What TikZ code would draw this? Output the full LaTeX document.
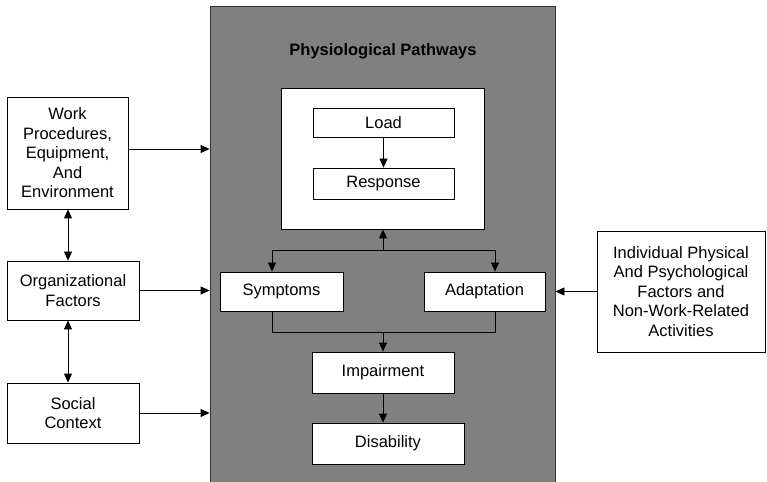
\documentclass[tikz,border=0pt]{standalone}
\usepackage{fontspec}
\setmainfont{Liberation Sans}
\usetikzlibrary{arrows.meta}
\definecolor{panel}{HTML}{808080}
\begin{document}
\begin{tikzpicture}[x=1bp,y=-1bp,
  box/.style={draw=black,fill=white,line width=0.8bp,inner sep=0pt,align=center,
    font=\fontsize{16.5bp}{19.5bp}\selectfont},
  arr/.style={line width=0.8bp,-{Triangle[length=9bp,width=8bp]}},
  darr/.style={line width=0.8bp,{Triangle[length=9bp,width=8bp]}-{Triangle[length=9bp,width=8bp]}},
  ln/.style={line width=0.8bp}]
\useasboundingbox (0,0) rectangle (767,482);
\clip (0,0) rectangle (767,482);
% grey panel
\node[draw=black!80,fill=panel,line width=0.8bp,minimum width=345bp,minimum height=484bp,inner sep=0pt] (pp) at (382.5,248) {};
\node[font=\fontsize{16.5bp}{18bp}\selectfont\bfseries] (title) at (383,51) {Physiological Pathways};
% inner white container
\node[box,minimum width=203bp,minimum height=141bp] (cont) at (382.5,158.5) {};
\node[box,minimum width=141bp,minimum height=29bp] (load) at (383.5,122.5) {Load};
\node[box,minimum width=141bp,minimum height=31bp] (resp) at (383.5,183.5) {Response};
\node[box,minimum width=123bp,minimum height=39bp] (sym) at (281.5,291.5) {\raisebox{3bp}{Symptoms}};
\node[box,minimum width=121bp,minimum height=39bp] (ada) at (484.5,291.5) {\raisebox{3bp}{Adaptation}};
\node[box,minimum width=142bp,minimum height=41bp] (imp) at (383,372.5) {\raisebox{3bp}{Impairment}};
\node[box,minimum width=152bp,minimum height=41bp] (dis) at (388,443.5) {\raisebox{3bp}{Disability}};
% left boxes
\node[box,minimum width=121bp,minimum height=112bp] (work) at (67.5,153) {Work\\Procedures,\\Equipment,\\And\\Environment};
\node[box,minimum width=132bp,minimum height=59bp] (org) at (73,290.5) {Organizational\\Factors};
\node[box,minimum width=132bp,minimum height=60bp] (soc) at (73,413) {Social\\Context};
% right box
\node[box,minimum width=168bp,minimum height=121bp] (ind) at (681,291.5) {Individual Physical\\And Psychological\\Factors and\\Non-Work-Related\\Activities};
% connectors
\draw[arr] (load.south) -- (resp.north);
\coordinate (jt) at (383,250);
\coordinate (jl) at (272,250);
\coordinate (jr) at (495,250);
\draw[ln] (jl) -- (jr);
\draw[arr] (jt) -- (jt |- cont.south);
\draw[arr] (jl) -- (jl |- sym.north);
\draw[arr] (jr) -- (jr |- ada.north);
\coordinate (bl) at (272,332);
\coordinate (br) at (495,332);
\coordinate (bm) at (383,332);
\draw[ln] (bl |- sym.south) -- (bl) -- (br) -- (br |- ada.south);
\draw[arr] (bm) -- (bm |- imp.north);
\draw[arr] (imp.south) -- (imp.south |- dis.north);
\coordinate (wa) at (128,149);
\draw[arr] (wa) -- (wa -| pp.west);
\draw[arr] (org.east) -- (org.east -| pp.west);
\draw[arr] (soc.east) -- (soc.east -| pp.west);
\draw[arr] (ind.west) -- (ind.west -| pp.east);
\coordinate (dx) at (68,0);
\draw[darr] (dx |- work.south) -- (dx |- org.north);
\draw[darr] (dx |- org.south) -- (dx |- soc.north);
\end{tikzpicture}
\end{document}
